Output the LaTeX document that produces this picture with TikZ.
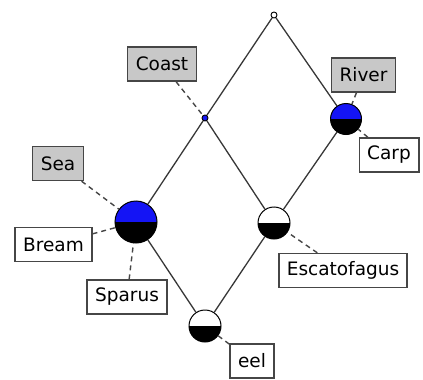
\documentclass[tikz,border=0pt]{standalone}
\usepackage{fontspec}
\setmainfont{DejaVu Sans}
\definecolor{conceptblue}{RGB}{20,20,245}
\definecolor{edgegray}{RGB}{55,55,55}
\definecolor{boxgray}{RGB}{200,200,200}
\definecolor{frame}{RGB}{70,70,70}
\begin{document}
\begin{tikzpicture}[x=1pt,y=-1pt,
  halfnode/.style 2 args={circle, draw=black, line width=1pt, minimum size=#1, inner sep=0pt,
    path picture={
      \fill[#2] (path picture bounding box.north west) rectangle (path picture bounding box.east);
      \fill[black] (path picture bounding box.west) rectangle (path picture bounding box.south east);
    }},
  dotnode/.style={circle, draw=black, line width=0.9pt, minimum size=6pt, inner sep=0pt, fill=#1},
  lbl/.style={draw=frame, line width=1.4pt, fill=white, font=\fontsize{18.5}{20}\selectfont,
    minimum height=34pt, inner xsep=8pt, inner ysep=0pt, text=black},
  attr/.style={lbl, fill=boxgray},
  edge/.style={draw=edgegray, line width=1.3pt},
  tie/.style={draw=frame, line width=1.4pt, dash pattern=on 5pt off 4pt}
]
\useasboundingbox (0,0) rectangle (423,380);

% lattice concepts
\node[dotnode=white] (top) at (274,15) {};
\node[dotnode=conceptblue] (coast) at (205,118) {};
\node[halfnode={31pt}{conceptblue}] (river) at (346,119) {};
\node[halfnode={42pt}{conceptblue}] (sea) at (136,222) {};
\node[halfnode={32pt}{white}] (esca) at (274,223) {};
\node[halfnode={32pt}{white}] (eel) at (205,326) {};

% order relation
\path[edge] (top) -- (coast);
\path[edge] (top) -- (river);
\path[edge] (coast) -- (sea);
\path[edge] (coast) -- (esca);
\path[edge] (river) -- (esca);
\path[edge] (sea) -- (eel);
\path[edge] (esca) -- (eel);

% attribute labels
\node[attr] (lcoast) at (162,64) {Coast};
\node[attr] (lriver) at (363.5,75) {River};
\node[attr] (lsea) at (58,163.5) {Sea};

% object labels
\node[lbl] (lcarp) at (389,155) {Carp};
\node[lbl] (lbream) at (53.5,244.5) {Bream};
\node[lbl] (lsparus) at (127,297) {Sparus};
\node[lbl] (lesca) at (343,270.5) {Escatofagus};
\node[lbl] (leel) at (252,361) {eel};

% label ties
\path[tie] (lcoast) -- (coast);
\path[tie] (lriver) -- (river);
\path[tie] (lsea) -- (sea);
\path[tie] (lcarp) -- (river);
\path[tie] (lbream) -- (sea);
\path[tie] (lsparus) -- (sea);
\path[tie] (lesca) -- (esca);
\path[tie] (leel) -- (eel);
\end{tikzpicture}
\end{document}
